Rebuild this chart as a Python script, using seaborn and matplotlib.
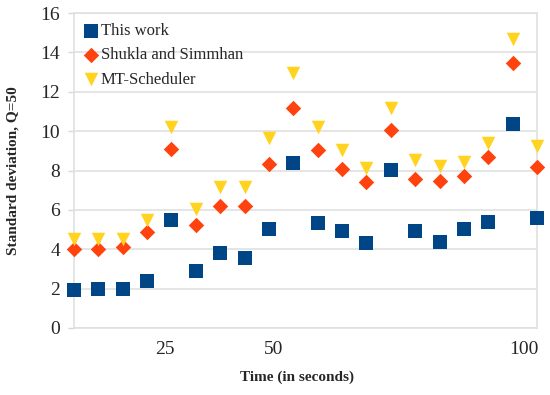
import numpy as np
import pandas as pd
import matplotlib
matplotlib.use("Agg")
import matplotlib.pyplot as plt
import seaborn as sns

# valores (20 pontos, um por instante)
ponto = np.arange(20)
this_work = [1.92, 1.97, 1.96, 2.41, 5.51, 2.90, 3.81, 3.56, 5.02, 8.40,
             5.31, 4.93, 4.32, 8.04, 4.93, 4.36, 5.05, 5.39, 10.35, 5.61]
shukla = [4.02, 4.02, 4.10, 4.90, 9.10, 5.21, 6.22, 6.22, 8.31, 11.15,
          9.03, 8.08, 7.41, 10.07, 7.58, 7.45, 7.70, 8.67, 13.45, 8.18]
mt_sched = [4.53, 4.53, 4.53, 5.48, 10.22, 6.03, 7.14, 7.14, 9.63, 12.95,
            10.22, 9.05, 8.12, 11.20, 8.55, 8.25, 8.43, 9.40, 14.70, 9.26]

rotulos_x = ["25", "50", "100"]
pos_rotulos = [3.73, 8.17, 18.47]

nomes = ["This work", "Shukla and Simmhan", "MT-Scheduler"]
cores = ["#004586", "#ff420e", "#ffd320"]
marcadores = ["s", "D", "v"]
tamanhos = [95, 62, 95]

sns.set_style("white")
plt.rcParams['font.family'] = ['Liberation Serif', 'DejaVu Serif']

fig = plt.figure(figsize=(5.5, 3.95), dpi=100)
ax = fig.add_axes([74/550, 1-328/395, 463/550, 315/395])

series = [this_work, shukla, mt_sched]
for nome, vals, cor, m, s in zip(nomes, series, cores, marcadores, tamanhos):
    df = pd.DataFrame({"ponto": ponto, "valor": vals})
    sns.scatterplot(data=df, x="ponto", y="valor", ax=ax, color=cor, marker=m,
                    s=s, linewidth=0, label=nome, clip_on=False, zorder=3)

ax.set_xlim(0, 19)
ax.set_ylim(0, 16)
ax.set_yticks(np.arange(0, 17, 2))
ax.grid(True, axis='y', color='#e0e0e0', linewidth=1.2)
ax.set_axisbelow(True)

# ticks pequenos em cada ponto, rotulos soltos
ax.set_xticks(ponto, minor=True)
ax.set_xticks(pos_rotulos)
ax.set_xticklabels(rotulos_x)
ax.tick_params(axis='x', which='major', length=0, pad=9, labelsize=14)
ax.tick_params(axis='x', which='minor', length=6, width=1, color='#d8d8d8', direction='out')
ax.tick_params(axis='y', length=4, width=1, color='#d8d8d8', pad=6, labelsize=14, left=True)

for lado in ['left', 'right', 'top', 'bottom']:
    ax.spines[lado].set_color('#e0e0e0')
    ax.spines[lado].set_linewidth(1.2)

ax.set_xlabel("Time (in seconds)", fontsize=11, fontweight='bold')
ax.set_ylabel("Standard deviation, Q=50", fontsize=11, fontweight='bold')
ax.xaxis.set_label_coords(0.482, -0.135)
ax.yaxis.set_label_coords(-0.117, 0.5)

ax.legend(loc='upper left', bbox_to_anchor=(0.022, 0.968), frameon=False,
          fontsize=12, handlelength=0.8, handletextpad=0.2, labelspacing=0.5,
          borderpad=0, borderaxespad=0)

fig.savefig("out.png", dpi=100)
